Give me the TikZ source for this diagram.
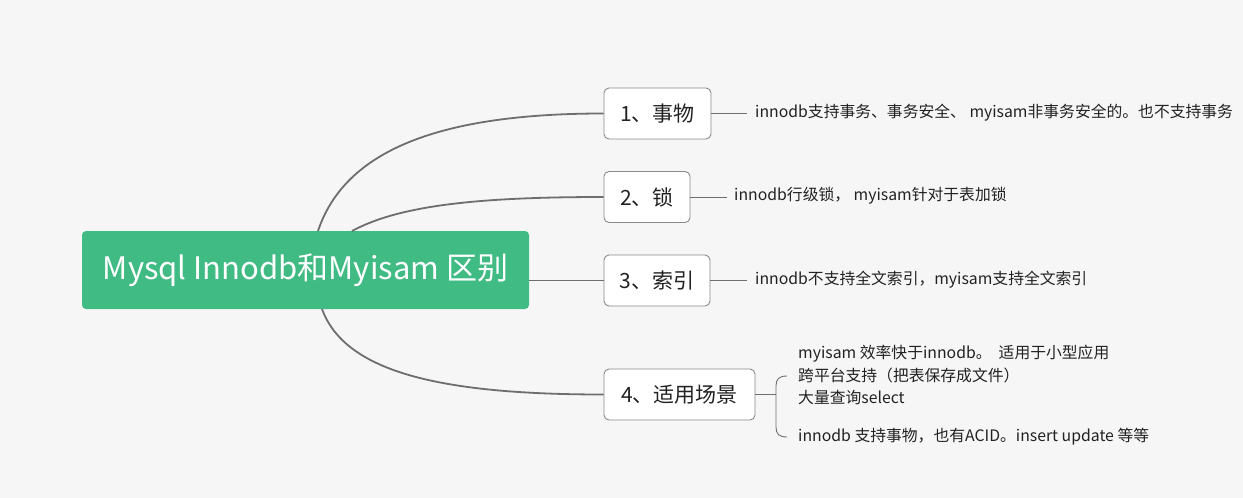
\documentclass[tikz,border=0pt]{standalone}
\usepackage{fontspec}
\setmainfont{Noto Sans CJK SC}
\definecolor{bgcol}{HTML}{F6F6F6}
\definecolor{rootgreen}{HTML}{41BB84}
\definecolor{edgecol}{HTML}{6E6E6E}
\definecolor{boxborder}{HTML}{8A8A8A}
\definecolor{txtcol}{HTML}{222222}
\begin{document}
\begin{tikzpicture}[x=1pt,y=-1pt,
  rootnode/.style={draw=none, fill=rootgreen, rounded corners=4pt, text=white,
    minimum width=447pt, minimum height=78pt, inner sep=0pt,
    font=\fontsize{31}{36}\selectfont},
  topicbox/.style={draw=boxborder, line width=0.9pt, fill=white, rounded corners=5pt,
    minimum height=51pt, inner sep=0pt, text=txtcol,
    font=\fontsize{21}{25}\selectfont},
  leaf/.style={anchor=west, inner sep=0pt, text=txtcol, align=left,
    font=\fontsize{15.8}{22.5}\selectfont},
  mainedge/.style={draw=edgecol, line width=1.8pt},
  thinedge/.style={draw=edgecol, line width=0.9pt}]
\fill[bgcol] (0,0) rectangle (1243,498);
\useasboundingbox (0,0) rectangle (1243,498);

\node[rootnode] (root) at (305.5,270) {Mysql Innodb和Myisam 区别};

\node[topicbox, minimum width=107pt] (b1) at (657.5,113.5) {1、事物};
\node[topicbox, minimum width=86pt] (b2) at (647,197) {2、锁};
\node[topicbox, minimum width=106pt] (b3) at (657,280.5) {3、索引};
\node[topicbox, minimum width=151pt] (b4) at (679.5,394.5) {4、适用场景};

\coordinate (r1) at (318,231);
\coordinate (r2) at (352,231);
\coordinate (r3) at (529,280.5);
\coordinate (r4) at (322,309);

\draw[mainedge] (r1) .. controls (345,150) and (440,113.5) .. (b1.west);
\draw[mainedge] (r2) .. controls (400,205) and (480,197) .. (b2.west);
\draw[mainedge] (r3) -- (b3.west);
\draw[mainedge] (r4) .. controls (345,372) and (440,394.5) .. (b4.west);

\node[leaf] (t1) at (755,113) {innodb支持事务、事务安全、 myisam非事务安全的。也不支持事务};
\node[leaf] (t2) at (734,196) {innodb行级锁， myisam针对于表加锁};
\node[leaf] (t3) at (755,280) {innodb不支持全文索引，myisam支持全文索引};
\node[leaf] (t4a) at (798,375) {myisam 效率快于innodb。\ \ 适用于小型应用\\跨平台支持（把表保存成文件）\\大量查询select};
\node[leaf] (t4b) at (798,437) {innodb 支持事物，也有ACID。insert update 等等};

\draw[thinedge] (b1.east) -- ++(36,0);
\draw[thinedge] (b2.east) -- ++(37,0);
\draw[thinedge] (b3.east) -- ++(37,0);

\coordinate (brk) at (776,394.5);
\coordinate (brtop) at (787,376);
\coordinate (brbot) at (787,437);
\draw[thinedge] (b4.east) -- (brk);
\draw[thinedge] (brtop) .. controls (779,376) and (776,379) .. (776,386) -- (776,427) .. controls (776,434) and (779,437) .. (brbot);
\end{tikzpicture}
\end{document}
